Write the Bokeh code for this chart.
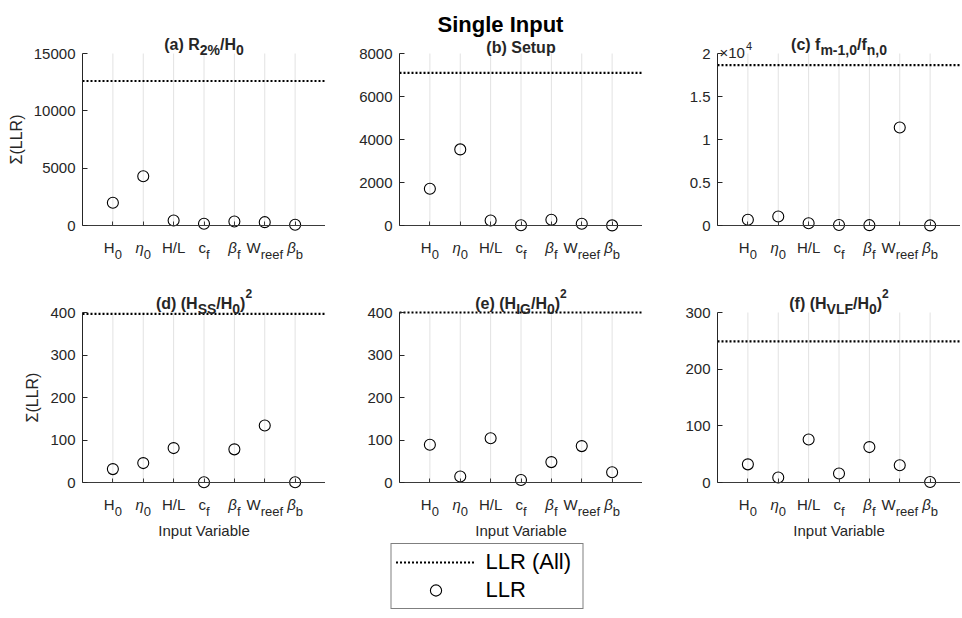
from bokeh.plotting import figure
from bokeh.models import Range1d, FixedTicker, Label, Legend, LegendItem, Spacer
from bokeh.layouts import row, column
from bokeh.embed import file_html
from bokeh.resources import INLINE

# ---------------- data ----------------
variables = ["H0", "η0", "H/L", "cf", "βf", "Wreef", "βb"]
tick_main = ["H", "η", "H/L", "c", "β", "W", "β"]
tick_sub = ["0", "0", "", "f", "f", "reef", "b"]
tick_italic = [False, True, False, False, True, False, True]
positions = [1, 2, 3, 4, 5, 6, 7]
xlim = (0, 8)

llr_a = [1980, 4300, 440, 150, 350, 290, 60]
llr_b = [1710, 3540, 230, 10, 265, 80, 5]
llr_c = [660, 1050, 270, 50, 40, 11400, 10]
llr_d = [31.5, 45.7, 81, 0.5, 78, 134, 0.5]
llr_e = [88.7, 14, 104, 6, 48, 85.6, 24]
llr_f = [32, 8.8, 75.9, 15.8, 62.5, 30.4, 1]

llr_all = [12600, 7100, 18640, 397, 400, 249]

yticks_a = [0, 5000, 10000, 15000]
yticks_b = [0, 2000, 4000, 6000, 8000]
yticks_c = [0, 5000, 10000, 15000, 20000]
ytick_labels_c = ["0", "0.5", "1", "1.5", "2"]
yticks_d = [0, 100, 200, 300, 400]
yticks_e = [0, 100, 200, 300, 400]
yticks_f = [0, 100, 200, 300]

titles = [
    [("(a) R", "n"), ("2%", "sub"), ("/H", "n"), ("0", "sub")],
    [("(b) Setup", "n")],
    [("(c) f", "n"), ("m-1,0", "sub"), ("/f", "n"), ("n,0", "sub")],
    [("(d) (H", "n"), ("SS", "sub"), ("/H", "n"), ("0", "sub"), (")", "n"), ("2", "sup")],
    [("(e) (H", "n"), ("IG", "sub"), ("/H", "n"), ("0", "sub"), (")", "n"), ("2", "sup")],
    [("(f) (H", "n"), ("VLF", "sub"), ("/H", "n"), ("0", "sub"), (")", "n"), ("2", "sup")],
]

# ---------------- styling ----------------
FONT = "Liberation Sans"
TXT = "#262626"
GRID = "#e2e2e2"

REG = {' ': 278, '(': 333, ')': 333, '/': 278, '%': 889, ',': 278, '-': 333,
       'A': 667, 'F': 611, 'G': 778, 'H': 722, 'I': 278, 'L': 556, 'R': 722,
       'S': 667, 'V': 667, 'W': 944, 'a': 556, 'b': 556, 'c': 500, 'e': 556,
       'f': 278, 'l': 222, 'm': 833, 'n': 556, 'r': 333, 's': 500, 't': 278,
       'u': 556, 'p': 556, 'i': 222, 'g': 556, 'η': 556, 'β': 575, '×': 584}
BOLD = {' ': 278, '(': 333, ')': 333, '/': 278, '%': 889, ',': 278, '-': 333,
        'F': 611, 'G': 778, 'H': 722, 'I': 278, 'L': 611, 'R': 722, 'S': 667,
        'V': 667, 'a': 556, 'b': 611, 'c': 556, 'd': 611, 'e': 556, 'f': 333,
        'm': 889, 'n': 611, 'p': 611, 't': 333, 'u': 611, 'i': 278, 'g': 611,
        'l': 278}


def text_w(txt, size, bold):
    table = BOLD if bold else REG
    return sum(table.get(ch, 556) for ch in txt) / 1000.0 * size


def rich(p, x, y, segs, size, sub_size, sup_size, bold, base_off,
         sub_drop, sup_raise, italic_flags=None):
    sizes = [size if k == "n" else (sub_size if k == "sub" else sup_size) for _, k in segs]
    widths = [text_w(t, s, bold) for (t, _), s in zip(segs, sizes)]
    start = -sum(widths) / 2.0
    cum = 0.0
    for i, ((txt, kind), fs, w) in enumerate(zip(segs, sizes, widths)):
        if txt:
            dy = base_off
            if kind == "sub":
                dy -= sub_drop
            elif kind == "sup":
                dy += sup_raise
            ital = italic_flags[i] if italic_flags else False
            style = (("bold " if bold else "") + ("italic" if ital else "")).strip() or "normal"
            p.add_layout(Label(x=x, y=y, x_units="data", y_units="data",
                               x_offset=start + cum, y_offset=dy, text=txt,
                               text_align="left", text_baseline="alphabetic",
                               text_font=FONT, text_font_size=f"{fs}px",
                               text_font_style=style, text_color=TXT))
        cum += w


def panel(vals, all_val, yticks, title_segs, canvas_w, left, top, axis_h,
          canvas_h, ylabel=False, xlabel=False, ytick_labels=None, sci=False):
    # the frame fills the whole canvas; the axes sit at x=0 / y=0 inside it
    plot_w = canvas_w - left
    ux = (xlim[1] - xlim[0]) / plot_w
    ymax = yticks[-1]
    uy = ymax / axis_h
    bottom = canvas_h - top - axis_h
    p = figure(width=canvas_w, height=canvas_h,
               x_range=Range1d(xlim[0] - left * ux, xlim[1]),
               y_range=Range1d(-bottom * uy, ymax + top * uy),
               toolbar_location=None, output_backend="svg", min_border=0)
    p.outline_line_color = None
    p.background_fill_color = "white"
    p.border_fill_color = "white"
    p.xgrid.visible = False
    p.ygrid.visible = False

    # vertical grid lines at each input variable
    p.segment(x0=positions, y0=[0] * len(positions), x1=positions,
              y1=[ymax] * len(positions), line_color=GRID, line_width=1)

    # LLR of all inputs
    p.segment(x0=[xlim[0]], y0=[all_val], x1=[xlim[1]], y1=[all_val],
              line_color="black", line_width=2.2, line_dash="2 2")
    # LLR of single inputs
    p.scatter(x=positions, y=vals, marker="circle", size=11, fill_color=None,
              line_color="black", line_width=1.1)

    # axes
    xa = p.xaxis[0]
    xa.ticker = FixedTicker(ticks=positions)
    xa.major_label_overrides = {v: "" for v in positions}
    xa.fixed_location = 0
    xa.bounds = xlim
    xa.major_tick_in = 4
    xa.major_tick_out = 0
    xa.minor_tick_line_color = None
    xa.axis_line_color = "#3a3a3a"
    xa.major_tick_line_color = "#3a3a3a"

    ya = p.yaxis[0]
    ya.ticker = FixedTicker(ticks=yticks)
    if ytick_labels:
        ya.major_label_overrides = {t: l for t, l in zip(yticks, ytick_labels)}
    ya.fixed_location = xlim[0]
    ya.bounds = (0, ymax)
    ya.major_tick_in = 5
    ya.major_tick_out = 0
    ya.minor_tick_line_color = None
    ya.axis_line_color = TXT
    ya.major_tick_line_color = TXT
    ya.major_label_text_font = FONT
    ya.major_label_text_font_size = "15px"
    ya.major_label_text_color = TXT
    ya.major_label_standoff = 7
    if ylabel:
        ya.axis_label = "Σ(LLR)"
        ya.axis_label_text_font = FONT
        ya.axis_label_text_font_size = "16px"
        ya.axis_label_text_font_style = "normal"
        ya.axis_label_text_color = TXT
        ya.axis_label_standoff = 6

    # x tick labels with subscripts
    for xi, m, s, it in zip(positions, tick_main, tick_sub, tick_italic):
        rich(p, xi, 0, [(m, "n"), (s, "sub")], 15, 13, 12, False, -22, 6.5, 0,
             italic_flags=[it, False])

    # panel title
    has_sub = any(k != "n" for _, k in title_segs)
    rich(p, (xlim[0] + xlim[1]) / 2, ymax, title_segs, 16, 14, 12, True,
         9 if has_sub else 6, 5, 10)

    if xlabel:
        p.add_layout(Label(x=(xlim[0] + xlim[1]) / 2, y=0, x_units="data",
                           y_units="data", y_offset=-48, text="Input Variable",
                           text_align="center", text_baseline="alphabetic",
                           text_font=FONT, text_font_size="15px",
                           text_color=TXT))
    if sci:
        p.add_layout(Label(x=xlim[0], y=ymax, x_units="data", y_units="data",
                           x_offset=2, y_offset=1, text="×10",
                           text_align="left", text_baseline="alphabetic",
                           text_font=FONT, text_font_size="15px",
                           text_color=TXT))
        p.add_layout(Label(x=xlim[0], y=ymax, x_units="data", y_units="data",
                           x_offset=2 + text_w("×10", 15, False) + 1,
                           y_offset=8, text="4",
                           text_align="left", text_baseline="alphabetic",
                           text_font=FONT, text_font_size="11px",
                           text_color=TXT))
    return p


TOP_H, TOP_T, TOP_AX = 260, 53, 172
BOT_H, BOT_T, BOT_AX = 283, 52, 170

pa = panel(llr_a, llr_all[0], yticks_a, titles[0], 325, 82, TOP_T, TOP_AX, TOP_H, ylabel=True)
pb = panel(llr_b, llr_all[1], yticks_b, titles[1], 317, 74, TOP_T, TOP_AX, TOP_H)
pc = panel(llr_c, llr_all[2], yticks_c, titles[2], 318, 75, TOP_T, TOP_AX, TOP_H,
           ytick_labels=ytick_labels_c, sci=True)
pd = panel(llr_d, llr_all[3], yticks_d, titles[3], 325, 82, BOT_T, BOT_AX, BOT_H,
           ylabel=True, xlabel=True)
pe = panel(llr_e, llr_all[4], yticks_e, titles[4], 317, 74, BOT_T, BOT_AX, BOT_H, xlabel=True)
pf = panel(llr_f, llr_all[5], yticks_f, titles[5], 318, 75, BOT_T, BOT_AX, BOT_H, xlabel=True)

# super title, centred over the whole figure
pb.add_layout(Label(x=(xlim[0] + xlim[1]) / 2, y=yticks_b[-1], x_units="data",
                    y_units="data", x_offset=-20.5, y_offset=29.5,
                    text="Single Input", text_align="center",
                    text_baseline="alphabetic", text_font=FONT,
                    text_font_size="22px", text_font_style="bold",
                    text_color="black"))

# legend (sample glyphs kept outside the visible range of this small canvas)
lf = figure(width=200, height=66, x_axis_type=None, y_axis_type=None,
            x_range=Range1d(0, 1), y_range=Range1d(0, 1),
            toolbar_location=None, output_backend="svg", min_border=0)
lf.outline_line_color = None
lf.grid.visible = False
r_all = lf.line(x=[2, 3], y=[2, 2], line_color="black", line_width=2.2, line_dash="2 2")
r_one = lf.scatter(x=[2], y=[2], marker="circle", size=11, fill_color=None,
                   line_color="black", line_width=1.1)
legend = Legend(items=[LegendItem(label="LLR (All)", renderers=[r_all]),
                       LegendItem(label="LLR", renderers=[r_one])],
                location="center", margin=0, padding=4, spacing=0,
                glyph_width=80, glyph_height=28, label_height=28,
                label_width=93, label_standoff=10,
                label_text_font=FONT, label_text_font_size="22px",
                label_text_color="black", border_line_color="black",
                border_line_width=1, background_fill_color="white",
                background_fill_alpha=1.0)
lf.add_layout(legend, "center")

layout = column(row(pa, pb, pc), row(pd, pe, pf),
                row(Spacer(width=387, height=66), lf))

open("out.html", "w").write(file_html(layout, INLINE, title="Single Input"))
